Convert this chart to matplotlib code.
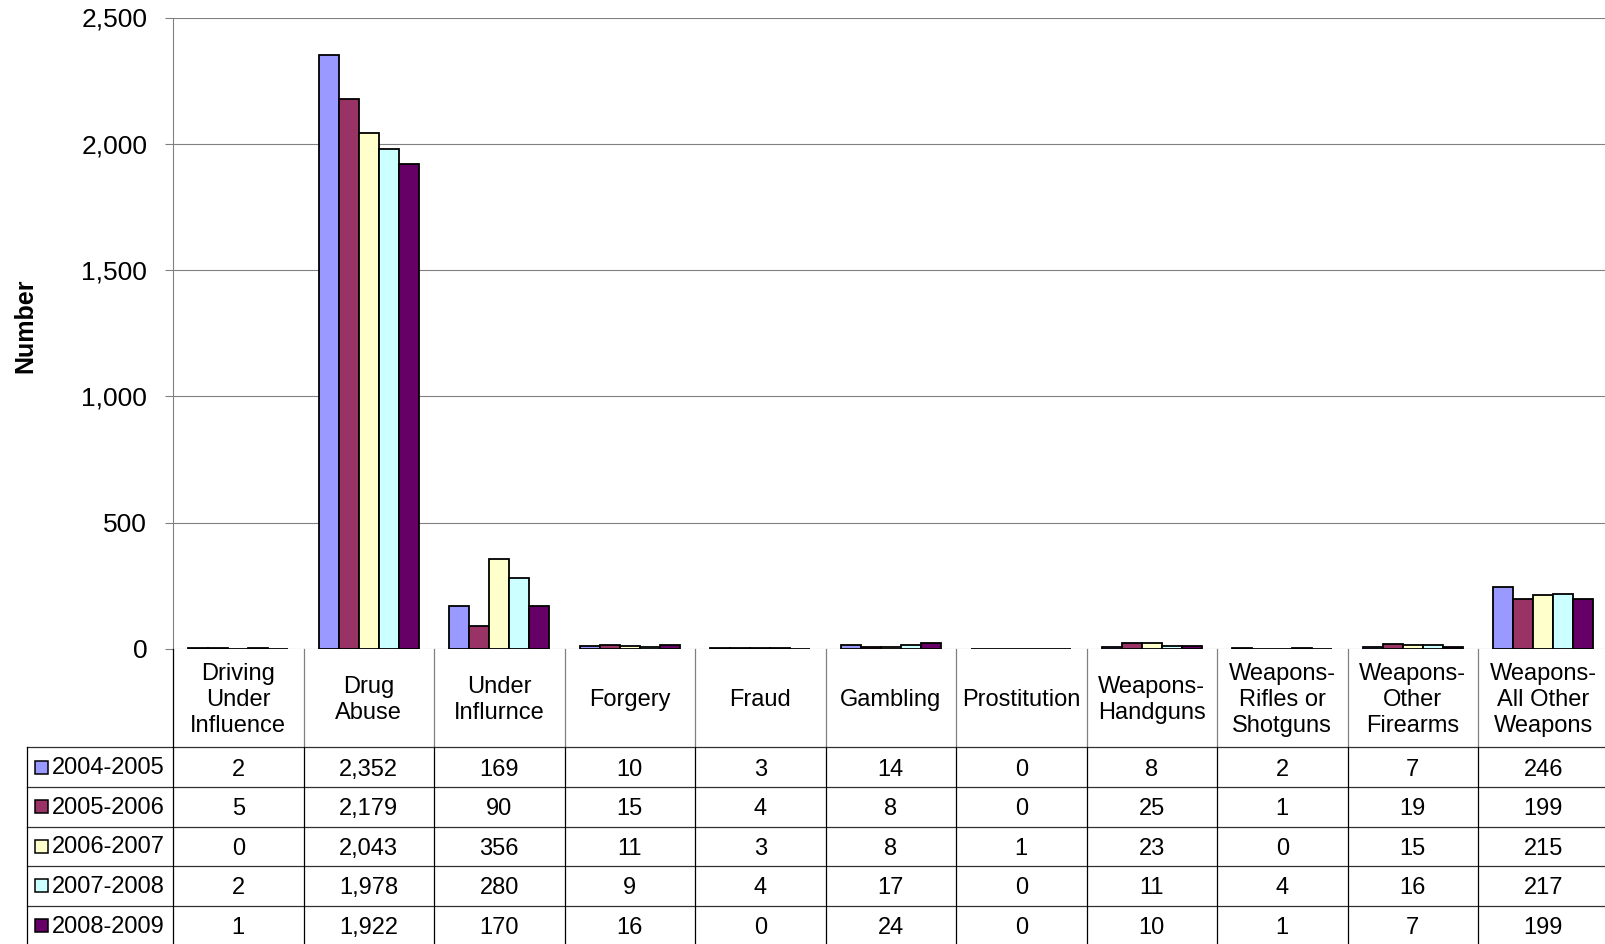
import matplotlib
matplotlib.use('Agg')
import matplotlib.pyplot as plt
import numpy as np

plt.rcParams['font.family'] = ['Liberation Sans', 'DejaVu Sans']

# categories and yearly counts
categories = ["Driving\nUnder\nInfluence", "Drug\nAbuse", "Under\nInflurnce", "Forgery", "Fraud",
              "Gambling", "Prostitution", "Weapons-\nHandguns", "Weapons-\nRifles or\nShotguns",
              "Weapons-\nOther\nFirearms", "Weapons-\nAll Other\nWeapons"]
years = ["2004-2005", "2005-2006", "2006-2007", "2007-2008", "2008-2009"]
y2004 = [2, 2352, 169, 10, 3, 14, 0, 8, 2, 7, 246]
y2005 = [5, 2179, 90, 15, 4, 8, 0, 25, 1, 19, 199]
y2006 = [0, 2043, 356, 11, 3, 8, 1, 23, 0, 15, 215]
y2007 = [2, 1978, 280, 9, 4, 17, 0, 11, 4, 16, 217]
y2008 = [1, 1922, 170, 16, 0, 24, 0, 10, 1, 7, 199]
series = [y2004, y2005, y2006, y2007, y2008]
colors = ['#9999FF', '#993366', '#FFFFCC', '#CCFFFF', '#660066']

W, H = 1606, 944
fig = plt.figure(figsize=(W / 100, H / 100), dpi=100)

# geometry in pixels
left_px, right_px = 173, 1608.5
top_px, zero_px = 17.5, 649
cat_w = (right_px - left_px) / len(categories)

ax = fig.add_axes([left_px / W, 1 - zero_px / H, (right_px - left_px) / W, (zero_px - top_px) / H])
n = len(categories)
x = np.arange(n) + 0.5
bw = 1 / 6.5
for j, (vals, c) in enumerate(zip(series, colors)):
    ax.bar(x + (j - 2) * bw, vals, width=bw, color=c, edgecolor='black', linewidth=1.3, zorder=3)

ax.set_xlim(0, n)
ax.set_ylim(0, 2500)
ax.set_yticks(np.arange(0, 2501, 500))
ax.set_yticklabels([f"{v:,}" for v in range(0, 2501, 500)], fontsize=19)
ax.set_xticks([])
ax.yaxis.grid(True, color='#808080', linewidth=0.8, zorder=0)
ax.tick_params(axis='y', length=5.5, width=0.8, color='#808080', pad=13)
for s in ['top', 'right', 'bottom']:
    ax.spines[s].set_visible(False)
ax.spines['left'].set_color('#808080')
ax.spines['left'].set_linewidth(0.8)

fig.text(25.6 / W, 1 - 326 / H, "Number", rotation=90, fontsize=18, fontweight='bold',
         ha='center', va='center')

# data table below the plot
leg_px = 27
bottom_px = 946
tax = fig.add_axes([leg_px / W, 1 - bottom_px / H, (right_px - leg_px) / W, (bottom_px - zero_px) / H])
tax.set_xlim(-(left_px - leg_px) / cat_w, n)
tax.set_ylim(bottom_px - zero_px, 0)
tax.axis('off')

head_h = 98.3
row_h = 39.6
# header labels
for i, lab in enumerate(categories):
    tax.text(i + 0.5, head_h / 2 + 2, lab, ha='center', va='center', fontsize=17, linespacing=1.22)

# rows
x0 = tax.get_xlim()[0]
for r, (yr, vals, c) in enumerate(zip(years, series, colors)):
    yc = head_h + (r + 0.5) * row_h
    for i, v in enumerate(vals):
        tax.text(i + 0.5, yc + 2.5, f"{v:,}", ha='center', va='center', fontsize=17)
    key = 13 / cat_w
    tax.add_patch(plt.Rectangle((x0 + 8 / cat_w, yc - 6.5), key, 13, facecolor=c,
                                edgecolor='black', linewidth=1.1, clip_on=False))
    tax.text(x0 + 25 / cat_w, yc + 1, yr, ha='left', va='center', fontsize=17)

# grid lines of the table
total_h = head_h + 5 * row_h
for r in range(6):
    yy = head_h + r * row_h
    tax.plot([x0, n], [yy, yy], color='#303030', linewidth=0.9, clip_on=False)
tax.plot([x0, x0], [head_h, total_h], color='black', linewidth=0.9, clip_on=False)
for i in range(n + 1):
    tax.plot([i, i], [0, head_h], color='black' if i == 0 else '#808080', linewidth=0.9, clip_on=False)
    tax.plot([i, i], [head_h, total_h], color='black', linewidth=0.9, clip_on=False)

fig.savefig('out.png', dpi=100)
